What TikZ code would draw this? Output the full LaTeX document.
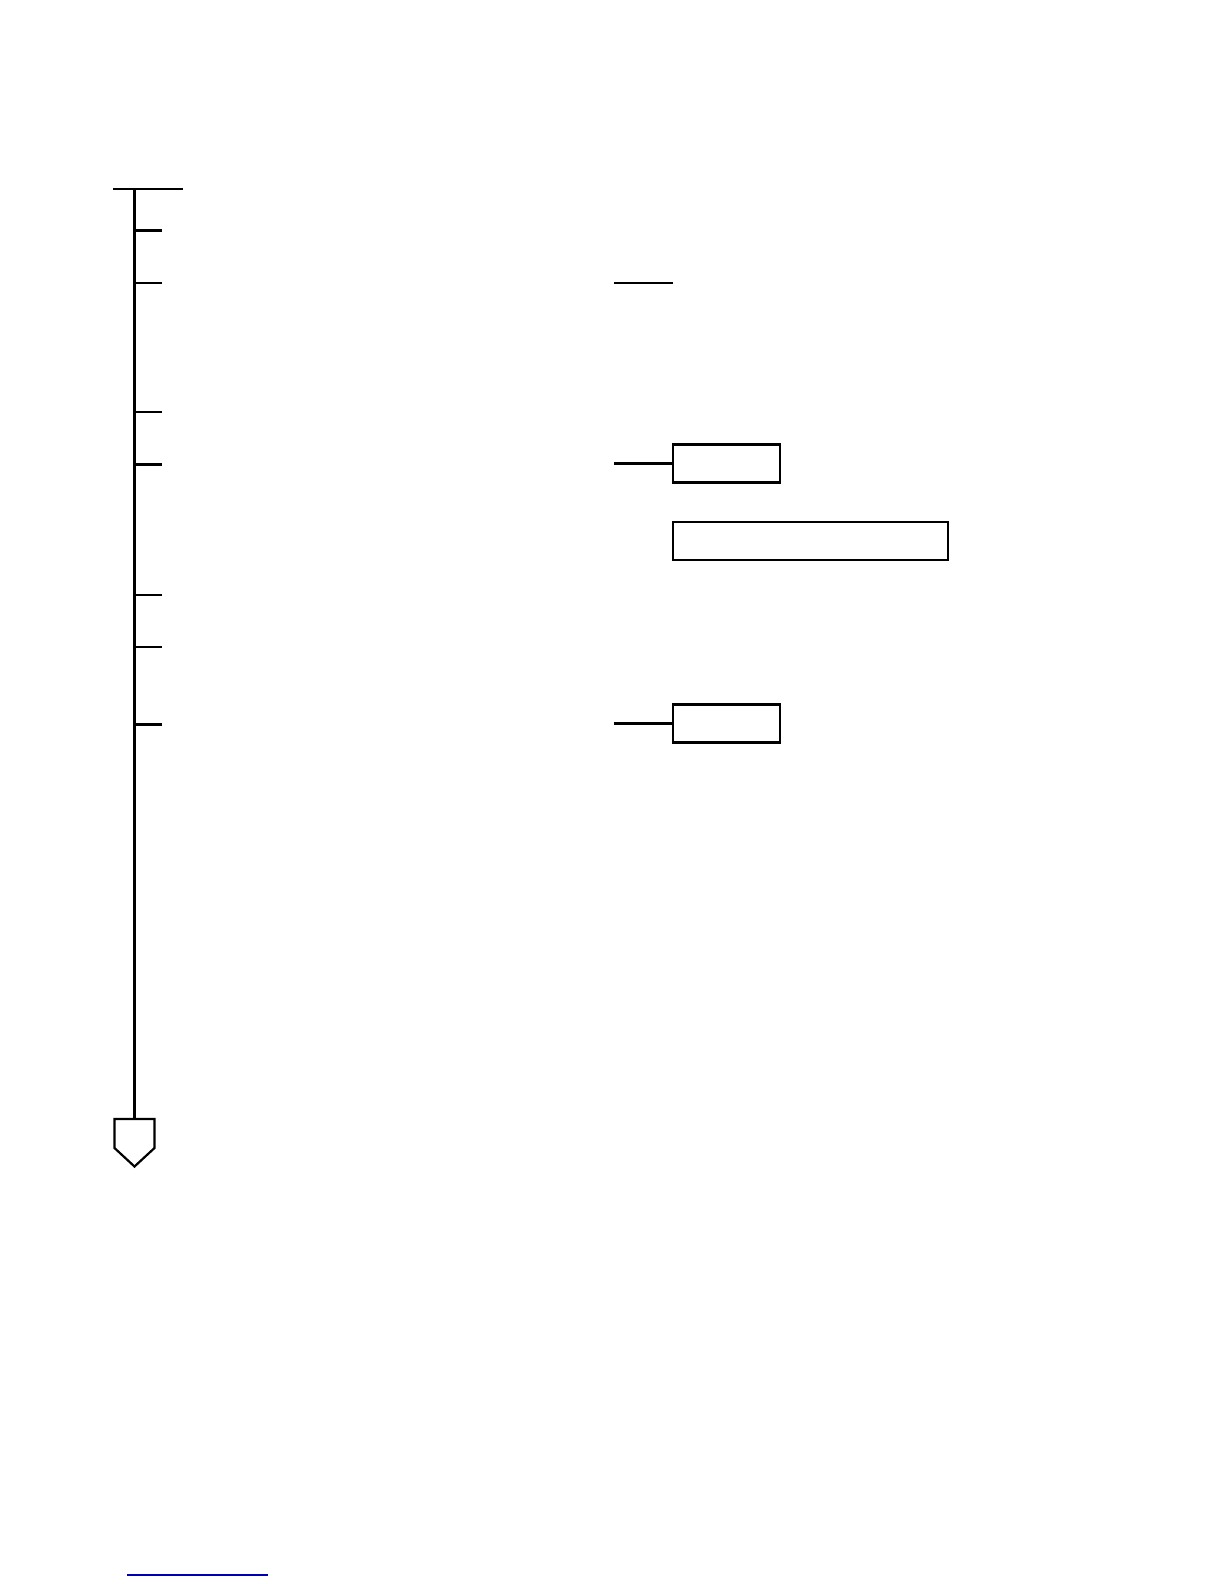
\documentclass[tikz,border=0pt]{standalone}
\usepackage{xcolor}
\usepackage{tikz}
\usetikzlibrary{calc, positioning}

\tikzset{
	stage/.style = {draw, line width = 1.1pt, minimum height = 19pt, inner sep = 0pt},
}

\begin{document}
\begin{tikzpicture}[x = 0.5pt, y = -0.5pt, line width = 1.1pt]
		%page frame
		\useasboundingbox (0,0) rectangle (1224,1584);
		
		%variables
		\def\sx{134.5};
		\def\tx{161.5};
		\def\bx{614};
		
		%coordinates
		\coordinate (spine top) at (\sx, 189);
		\coordinate (spine end) at (\sx, 1119);
		
		%main spine
		\draw (113, 189) -- (183, 189);
		\draw (spine top) -- (spine end);
		
		%ticks
		\draw (\sx, 230.5) -- (\tx, 230.5);
		\draw (\sx, 283) -- (\tx, 283);
		\draw (\sx, 412) -- (\tx, 412);
		\draw (\sx, 464.5) -- (\tx, 464.5);
		\draw (\sx, 595) -- (\tx, 595);
		\draw (\sx, 647) -- (\tx, 647);
		\draw (\sx, 724.5) -- (\tx, 724.5);
		
		%boxes
		\node [stage, minimum width = 53.5pt] (box one) at (726.5, 463.5) {};
		\node [stage, minimum width = 137.5pt] (box two) at (810.5, 541) {};
		\node [stage, minimum width = 53.5pt] (box three) at (726.5, 723.5) {};
		
		%branches
		\coordinate (branch a) at (\bx, 283);
		\coordinate (branch b) at (\bx, 463.5);
		\coordinate (branch c) at (\bx, 723.5);
		
		\draw (branch a) -- ++(59, 0);
		\draw (branch b) -- (box one.west);
		\draw (branch c) -- (box three.west);
		
		%end marker
		\draw [line join = miter] (spine end) -- (154.5, 1119) -- (154.5, 1148) -- (\sx, 1166.5) -- (114.5, 1148) -- (114.5, 1119) -- cycle;
		
		%footer rule
		\draw [blue!70!black, line width = 0.6pt] (127, 1575) -- (268, 1575);
	\end{tikzpicture}
\end{document}
